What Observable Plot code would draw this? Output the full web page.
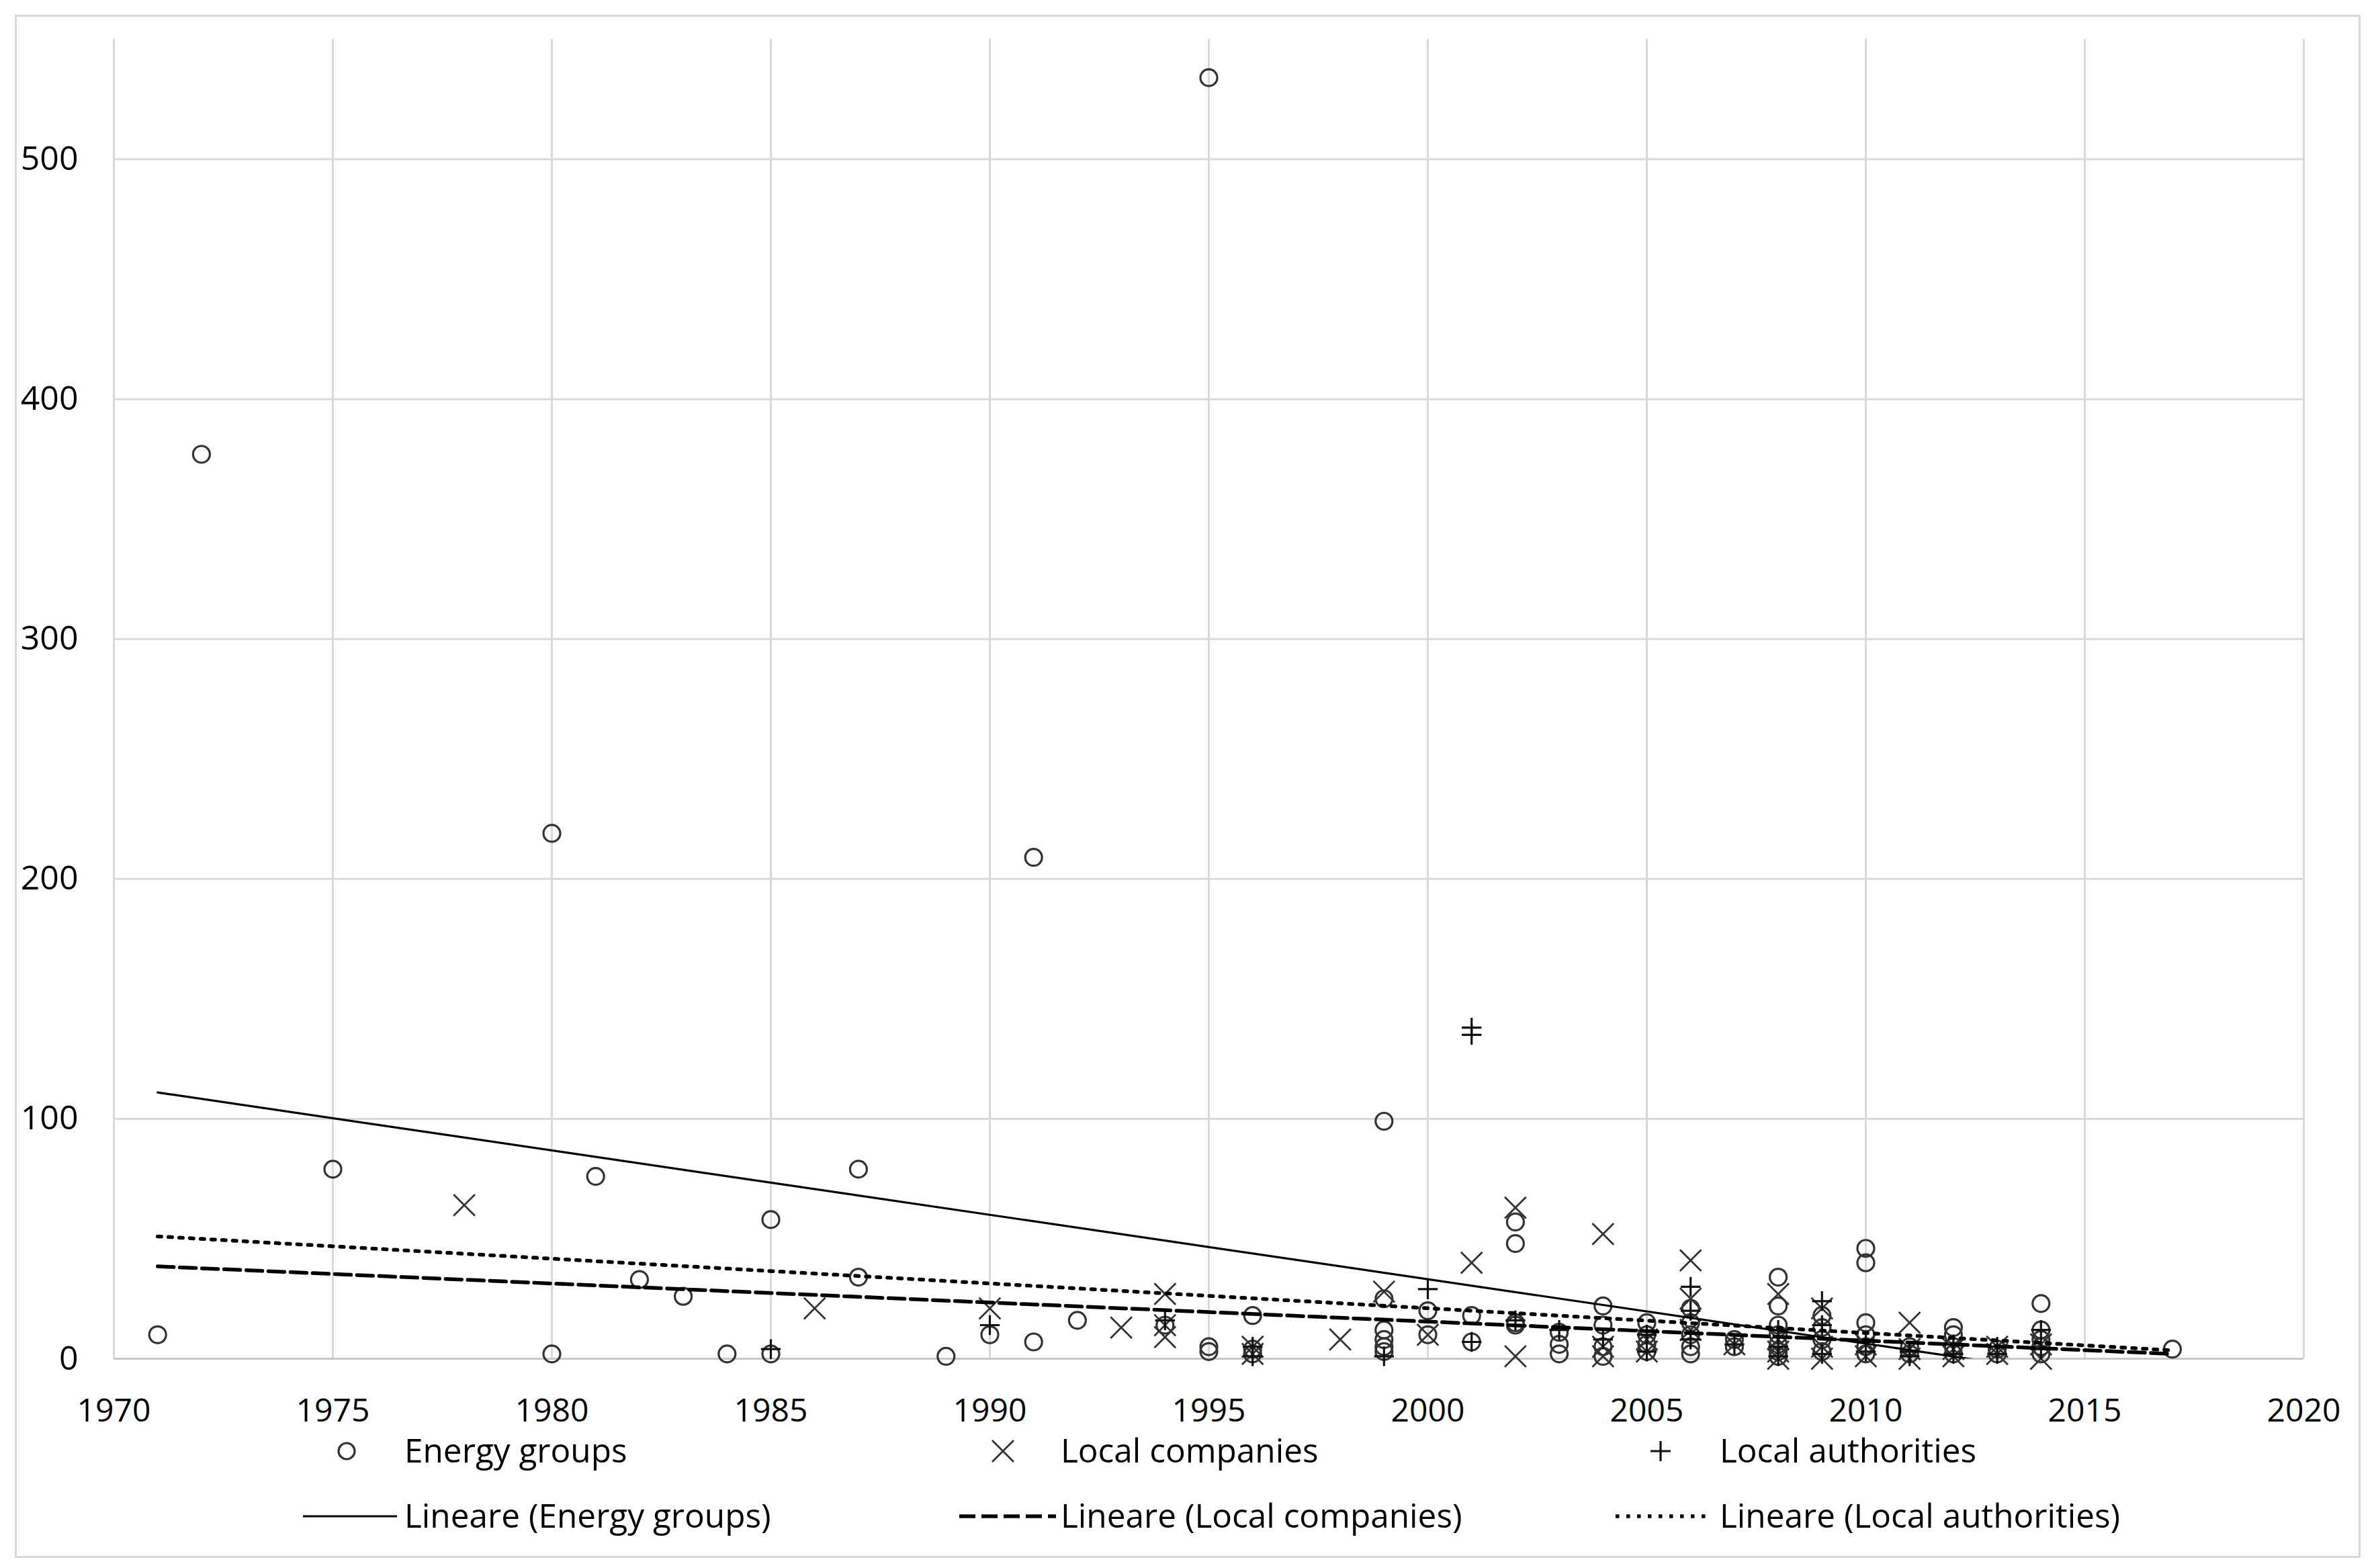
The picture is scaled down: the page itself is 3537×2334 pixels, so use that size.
<!DOCTYPE html>
<html>
<head>
<meta charset="utf-8">
<script src="https://cdn.jsdelivr.net/npm/d3@7"></script>
<script src="https://cdn.jsdelivr.net/npm/@observablehq/plot@0.6"></script>
<style>
html, body { margin: 0; padding: 0; background: #fff; }
#wrap { position: relative; width: 3537px; height: 2334px; font-family: "Open Sans", sans-serif; color: #000; overflow: hidden; }
#frame { position: absolute; left: 22px; top: 22px; width: 3492px; height: 2297px; border: 3px solid #d9d9d9; box-sizing: border-box; }
#chart { position: absolute; left: 0; top: 0; }
.leg { position: absolute; height: 60px; line-height: 60px; font-size: 49.5px; white-space: nowrap; }
.sym { position: absolute; }
</style>
</head>
<body>
<div id="wrap">
  <div id="frame"></div>
  <div id="chart"></div>
  <div id="legend"></div>
</div>
<script>
// ---- data (year, value) ----
const energyGroups = [
  [1971, 10], [1972, 377], [1975, 79], [1980, 219], [1980, 2], [1981, 76], [1982, 33], [1983, 26],
  [1984, 2], [1985, 58], [1985, 2], [1987, 79], [1987, 34], [1989, 1], [1990, 10], [1991, 209],
  [1991, 7], [1992, 16], [1994, 14], [1995, 534], [1995, 5], [1995, 3], [1996, 18], [1996, 4],
  [1996, 2], [1999, 99], [1999, 25], [1999, 12], [1999, 8], [1999, 5], [1999, 3], [2000, 20],
  [2000, 10], [2001, 18], [2001, 7], [2002, 57], [2002, 48], [2002, 15], [2002, 14], [2003, 11],
  [2003, 6], [2003, 2], [2004, 22], [2004, 14], [2004, 5], [2004, 1], [2005, 15], [2005, 10],
  [2005, 6], [2005, 3], [2006, 21], [2006, 15], [2006, 10], [2006, 5], [2006, 2], [2007, 8],
  [2007, 5], [2008, 34], [2008, 22], [2008, 14], [2008, 10], [2008, 6], [2008, 3], [2008, 1],
  [2009, 18], [2009, 13], [2009, 8], [2009, 3], [2010, 46], [2010, 40], [2010, 15], [2010, 10],
  [2010, 5], [2010, 2], [2011, 5], [2011, 2], [2012, 13], [2012, 10], [2012, 5], [2012, 2],
  [2013, 4], [2013, 2], [2014, 23], [2014, 12], [2014, 8], [2014, 5], [2014, 2], [2017, 4]
];
const localCompanies = [
  [1978, 64], [1986, 21], [1990, 21], [1993, 13], [1994, 27], [1994, 14], [1994, 9], [1996, 5],
  [1996, 2], [1998, 8], [1999, 28], [2000, 10], [2001, 40], [2002, 63], [2002, 1], [2004, 52],
  [2004, 5], [2004, 1], [2005, 8], [2005, 3], [2006, 41], [2006, 25], [2006, 12], [2007, 6],
  [2008, 27], [2008, 8], [2008, 3], [2008, 0], [2009, 21], [2009, 5], [2009, 0], [2010, 6],
  [2010, 1], [2011, 15], [2011, 4], [2011, 0], [2012, 4], [2012, 1], [2013, 5], [2013, 2],
  [2014, 6], [2014, 0]
];
const localAuthorities = [
  [1985, 4], [1990, 14], [1994, 16], [1996, 5], [1996, 1], [1999, 1], [2000, 29], [2001, 138],
  [2001, 135], [2001, 7], [2002, 16], [2003, 12], [2004, 8], [2005, 10], [2005, 3], [2006, 30],
  [2006, 20], [2006, 8], [2007, 6], [2008, 12], [2008, 5], [2008, 1], [2009, 24], [2009, 14],
  [2009, 2], [2010, 7], [2010, 3], [2011, 3], [2011, 1], [2012, 6], [2012, 2], [2013, 5],
  [2013, 2], [2014, 12], [2014, 4]
];
// linear trend lines ("Lineare"), endpoints
const trendYears = [1971, 2017];
const energyTrend = [111, -12.5];
const companiesTrend = [38.5, 2];
const authoritiesTrend = [51, 3.5];

const xTicks = [1970, 1975, 1980, 1985, 1990, 1995, 2000, 2005, 2010, 2015, 2020];
const yTicks = [0, 100, 200, 300, 400, 500];
const seriesNames = ["Energy groups", "Local companies", "Local authorities"];
const trendNames = ["Lineare (Energy groups)", "Lineare (Local companies)", "Lineare (Local authorities)"];

const toTrend = ys => trendYears.map((x, i) => ({x, y: ys[i]}));
const markStroke = "#333";

const chart = Plot.plot({
  width: 3537,
  height: 2130,
  marginLeft: 169,
  marginRight: 108,
  marginTop: 58,
  marginBottom: 108,
  style: {fontFamily: "'Open Sans', sans-serif", fontSize: "48px", color: "#000", background: "transparent", overflow: "visible"},
  x: {domain: [1970, 2020]},
  y: {domain: [0, 550]},
  marks: [
    Plot.gridX(xTicks, {stroke: "#d9d9d9", strokeOpacity: 1, strokeWidth: 3}),
    Plot.gridY(yTicks.filter(d => d > 0), {stroke: "#d9d9d9", strokeOpacity: 1, strokeWidth: 3}),
    Plot.ruleY([0], {stroke: "#c8c8c8", strokeWidth: 3}),
    Plot.axisX(xTicks, {tickSize: 0, tickPadding: 59, tickFormat: d => String(d), fontSize: 48, label: null}),
    Plot.axisY(yTicks, {tickSize: 0, tickPadding: 53, fontSize: 50, label: null}),
    Plot.dot(energyGroups, {x: d => d[0], y: d => d[1], r: 12.5, stroke: markStroke, strokeWidth: 3.2, fill: "none"}),
    Plot.dot(localCompanies, {x: d => d[0], y: d => d[1], symbol: "times", r: 14.5, stroke: markStroke, strokeWidth: 2.8}),
    Plot.dot(localAuthorities, {x: d => d[0], y: d => d[1], symbol: "plus", r: 9.5, stroke: "#111", strokeWidth: 3.2}),
    Plot.line(toTrend(energyTrend), {x: "x", y: "y", stroke: "#000", strokeWidth: 3.2, clip: true}),
    Plot.line(toTrend(companiesTrend), {x: "x", y: "y", stroke: "#000", strokeWidth: 5.5, strokeDasharray: "24,9", clip: true}),
    Plot.line(toTrend(authoritiesTrend), {x: "x", y: "y", stroke: "#000", strokeWidth: 5.5, strokeDasharray: "5.5,10.5", clip: true})
  ]
});
document.getElementById("chart").appendChild(chart);

// ---- legend below the chart ----
const legend = document.getElementById("legend");
const symX = [516, 1493, 2472];
const textX = [602, 1579, 2560];
const lineX = [[451, 591], [1428, 1572], [2405, 2549]];
const row1 = 2160, row2 = 2257;
const symSvg = [
  '<circle cx="20" cy="20" r="12" fill="none" stroke="' + markStroke + '" stroke-width="3.2"/>',
  '<path d="M4,4L36,36M36,4L4,36" stroke="' + markStroke + '" stroke-width="2.8"/>',
  '<path d="M5,20H35M20,5V35" stroke="#111" stroke-width="3.2"/>'
];
const lineStyles = [
  'stroke-width="3.2"',
  'stroke-width="5.5" stroke-dasharray="24,9"',
  'stroke-width="5.5" stroke-dasharray="5.5,10.5"'
];
seriesNames.forEach((name, i) => {
  const s = document.createElement("div");
  s.className = "sym";
  s.style.left = (symX[i] - 20) + "px";
  s.style.top = (row1 - 20) + "px";
  s.innerHTML = '<svg width="40" height="40">' + symSvg[i] + '</svg>';
  legend.appendChild(s);
  const t = document.createElement("div");
  t.className = "leg";
  t.style.left = textX[i] + "px";
  t.style.top = (row1 - 32) + "px";
  t.textContent = name;
  legend.appendChild(t);

  const w = lineX[i][1] - lineX[i][0];
  const l = document.createElement("div");
  l.className = "sym";
  l.style.left = lineX[i][0] + "px";
  l.style.top = (row2 - 10) + "px";
  l.innerHTML = '<svg width="' + w + '" height="20"><line x1="0" y1="10" x2="' + w + '" y2="10" stroke="#000" ' + lineStyles[i] + '/></svg>';
  legend.appendChild(l);
  const t2 = document.createElement("div");
  t2.className = "leg";
  t2.style.left = textX[i] + "px";
  t2.style.top = (row2 - 32) + "px";
  t2.textContent = trendNames[i];
  legend.appendChild(t2);
});
</script>
</body>
</html>
